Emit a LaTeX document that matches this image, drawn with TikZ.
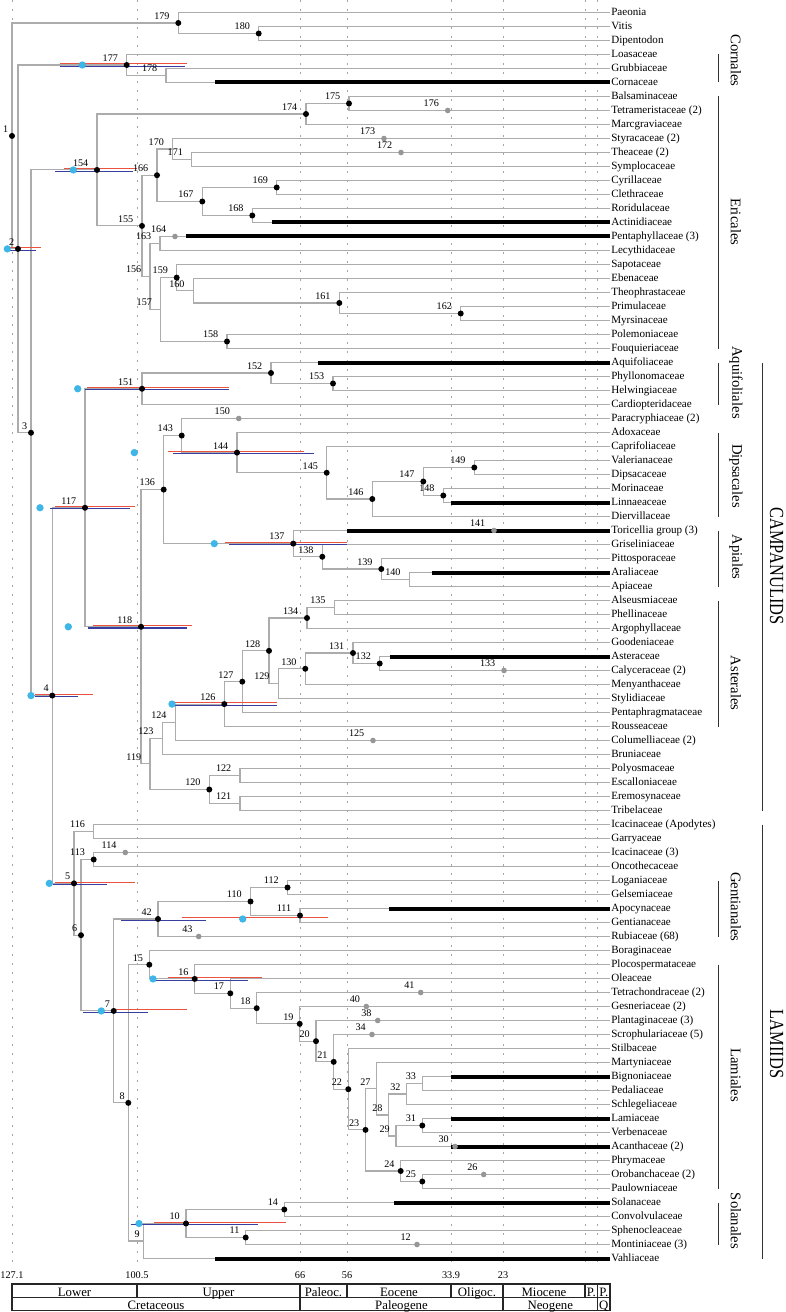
\documentclass[tikz,border=0pt]{standalone}
\usepackage{fontspec}
\setmainfont{Liberation Serif}
\usetikzlibrary{calc}
\definecolor{branchgray}{RGB}{172,172,172}
\definecolor{gridgray}{RGB}{165,165,165}
\definecolor{collgray}{RGB}{150,150,150}
\definecolor{hpdred}{RGB}{236,82,64}
\definecolor{hpdblue}{RGB}{56,62,160}
\definecolor{calibcyan}{RGB}{62,182,232}
\newcommand{\clade}[4]{%
  \path let \p1=(#3), \p2=(#4) in coordinate (#1) at ({#2*0.75pt},{0.5*\y1+0.5*\y2});
  \draw[branch] (#3) -| (#1) |- (#4);}
\newcommand{\hpd}[5]{%
  \draw[hpdr] ($(#2,0 |- #1)+(0,-1.2)$) -- ($(#3,0 |- #1)+(0,-1.2)$);
  \draw[hpdb] ($(#4,0 |- #1)+(0,1.2)$) -- ($(#5,0 |- #1)+(0,1.2)$);}
\begin{document}
\begin{tikzpicture}[x=0.75pt, y=-0.75pt,
    branch/.style={draw=branchgray, line width=0.8pt},
    stem/.style={draw=black, line width=3pt},
    hpdr/.style={draw=hpdred, line width=0.8pt},
    hpdb/.style={draw=hpdblue, line width=0.8pt},
    grid/.style={draw=gridgray, line width=0.6pt, dash pattern=on 1.5pt off 5.25pt},
    taxon/.style={anchor=base west, inner sep=0.75pt, yshift=-2.6pt, font=\fontsize{8.3}{9}\selectfont},
    num/.style={anchor=south east, inner sep=0pt, yshift=2.5pt, font=\fontsize{7.6}{8}\selectfont},
    axlbl/.style={font=\fontsize{7.7}{8}\selectfont, inner sep=0pt},
    tab/.style={draw=black!85, line width=0.8pt},
    tablbl/.style={anchor=base, inner sep=0pt, font=\fontsize{9.6}{10}\selectfont},
    ordbar/.style={draw=black!80, line width=0.8pt},
    ordlbl/.style={rotate=-90, inner sep=0pt, font=\fontsize{11}{12}\selectfont},
    grplbl/.style={rotate=-90, xscale=0.82, inner sep=0pt, font=\fontsize{15}{16}\selectfont},
]
\useasboundingbox (0,0) rectangle (785,1312);
\fill[white] (0,0) rectangle (785,1312);

\foreach \x in {12,137,300,347,451,503,585,597.7}
  \draw[grid] (\x,0) -- (\x,1264);

\foreach \tx [count=\i] in {Paeonia, Vitis, Dipentodon, Loasaceae, Grubbiaceae, Cornaceae,
    Balsaminaceae, Tetrameristaceae (2), Marcgraviaceae, Styracaceae (2), Theaceae (2),
    Symplocaceae, Cyrillaceae, Clethraceae, Roridulaceae, Actinidiaceae, Pentaphyllaceae (3),
    Lecythidaceae, Sapotaceae, Ebenaceae, Theophrastaceae, Primulaceae, Myrsinaceae,
    Polemoniaceae, Fouquieriaceae, Aquifoliaceae, Phyllonomaceae, Helwingiaceae,
    Cardiopteridaceae, Paracryphiaceae (2), Adoxaceae, Caprifoliaceae, Valerianaceae,
    Dipsacaceae, Morinaceae, Linnaeaceae, Diervillaceae, Toricellia group (3), Griseliniaceae,
    Pittosporaceae, Araliaceae, Apiaceae, Alseusmiaceae, Phellinaceae, Argophyllaceae,
    Goodeniaceae, Asteraceae, Calyceraceae (2), Menyanthaceae, Stylidiaceae,
    Pentaphragmataceae, Rousseaceae, Columelliaceae (2), Bruniaceae, Polyosmaceae,
    Escalloniaceae, Eremosynaceae, Tribelaceae, Icacinaceae (Apodytes), Garryaceae,
    Icacinaceae (3), Oncothecaceae, Loganiaceae, Gelsemiaceae, Apocynaceae, Gentianaceae,
    Rubiaceae (68), Boraginaceae, Plocospermataceae, Oleaceae, Tetrachondraceae (2),
    Gesneriaceae (2), Plantaginaceae (3), Scrophulariaceae (5), Stilbaceae, Martyniaceae,
    Bignoniaceae, Pedaliaceae, Schlegeliaceae, Lamiaceae, Verbenaceae, Acanthaceae (2),
    Phrymaceae, Orobanchaceae (2), Paulowniaceae, Solanaceae, Convolvulaceae,
    Sphenocleaceae, Montiniaceae (3), Vahliaceae}{
  \coordinate (t\i) at (610,{12.5+14*(\i-1)});
  \node[taxon] (tl\i) at (t\i) {\tx};
}

\clade{n180}{258.7}{t2}{t3}
\clade{n179}{178.3}{t1}{n180}
\clade{n178}{166}{t5}{t6}
\clade{n177}{126.7}{t4}{n178}
\clade{n175}{349}{t7}{t8}
\clade{n174}{306}{n175}{t9}
\clade{n171}{191.7}{t11}{t12}
\clade{n170}{172.7}{t10}{n171}
\clade{n169}{276.7}{t13}{t14}
\clade{n168}{252.3}{t15}{t16}
\clade{n167}{202.3}{n169}{n168}
\clade{n166}{157}{n170}{n167}
\clade{n163}{160}{t17}{t18}
\clade{n162}{460.7}{t22}{t23}
\clade{n161}{339.3}{t21}{n162}
\clade{n160}{193.3}{t20}{n161}
\clade{n159}{176.7}{t19}{n160}
\clade{n158}{227}{t24}{t25}
\clade{n157}{160.7}{n159}{n158}
\clade{n156}{150}{n163}{n157}
\clade{n155}{142}{n166}{n156}
\clade{n154}{97}{n174}{n155}
\clade{n153}{333}{t27}{t28}
\clade{n152}{271}{t26}{n153}
\clade{n151}{142}{n152}{t29}
\clade{n149}{474.3}{t33}{t34}
\clade{n148}{443.3}{t35}{t36}
\clade{n147}{423.3}{n149}{n148}
\clade{n146}{372.3}{n147}{t37}
\clade{n145}{326.7}{t32}{n146}
\clade{n144}{237}{t31}{n145}
\clade{n143}{181.7}{t30}{n144}
\clade{n140}{409.3}{t41}{t42}
\clade{n139}{381.3}{t40}{n140}
\clade{n138}{322.3}{t39}{n139}
\clade{n137}{293.3}{t38}{n138}
\clade{n136}{163.7}{n143}{n137}
\clade{n135}{334.3}{t43}{t44}
\clade{n134}{307}{n135}{t45}
\clade{n132}{379.7}{t47}{t48}
\clade{n131}{353}{t46}{n132}
\clade{n130}{305.3}{n131}{t49}
\clade{n129}{278.3}{n130}{t50}
\clade{n128}{269}{n134}{n129}
\clade{n127}{242.3}{n128}{t51}
\clade{n126}{224.3}{n127}{t52}
\clade{n124}{175.3}{n126}{t53}
\clade{n123}{162.3}{n124}{t54}
\clade{n122}{240}{t55}{t56}
\clade{n121}{240}{t57}{t58}
\clade{n120}{209.3}{n122}{n121}
\clade{n119}{150}{n123}{n120}
\clade{n118}{141}{n136}{n119}
\clade{n117}{85}{n151}{n118}
\clade{n116}{93.7}{t59}{t60}
\clade{n113}{93.7}{t61}{t62}
\clade{n112}{287.5}{t63}{t64}
\clade{n111}{300}{t65}{t66}
\clade{n110}{250.5}{n112}{n111}
\clade{n42}{158}{n110}{t67}
\clade{n33}{422.3}{t77}{t78}
\clade{n32}{406.7}{n33}{t79}
\clade{n31}{422.3}{t80}{t81}
\clade{n29}{396}{n31}{t82}
\clade{n28}{388.7}{n32}{n29}
\clade{n27}{376.7}{t76}{n28}
\clade{n25}{422.3}{t84}{t85}
\clade{n24}{400.7}{t83}{n25}
\clade{n23}{365.5}{n27}{n24}
\clade{n22}{348.3}{t75}{n23}
\clade{n21}{333.7}{t74}{n22}
\clade{n20}{316}{t73}{n21}
\clade{n19}{299.7}{t72}{n20}
\clade{n18}{256.7}{t71}{n19}
\clade{n17}{230.3}{t70}{n18}
\clade{n16}{194.7}{t69}{n17}
\clade{n15}{149.3}{t68}{n16}
\clade{n14}{284.3}{t86}{t87}
\clade{n11}{245.7}{t88}{t89}
\clade{n10}{186}{n14}{n11}
\clade{n9}{143.3}{n10}{t90}
\clade{n8}{128.3}{n15}{n9}
\clade{n7}{113.7}{n42}{n8}
\clade{n6}{81}{n113}{n7}
\clade{n5}{74}{n116}{n6}
\clade{n4}{52.3}{n117}{n5}
\clade{n3}{31}{n154}{n4}
\clade{n2}{18}{n177}{n3}
\clade{n1}{12}{n179}{n2}

\foreach \x/\t in {215/6,271.7/16,186/17,318.3/26,450.7/36,346.7/38,431.7/41,389.5/47,
    389.3/65,450.7/77,450.7/80,450.7/82,394/86,215/90}
  \draw[stem] (\x,0 |- t\t) -- (t\t);

\foreach \n/\x/\t in {176/447.7/8,173/384/10,172/401/11,164/175/17,150/238.7/30,141/494/38,
    133/504/48,125/373/53,114/125.3/61,43/198.7/67,41/420.7/71,40/366.3/72,38/377.7/73,
    34/372/74,30/455/82,26/483.7/84,12/417/89}
  \coordinate (n\n) at (\x,0 |- t\t);

\hpd{n177}{60}{186.7}{60}{185}
\hpd{n154}{64}{137}{55}{133}
\hpd{n2}{7.3}{40.7}{7.3}{36}
\hpd{n151}{87.3}{229.3}{85}{229.3}
\hpd{n117}{55}{135}{50}{130}
\hpd{n144}{168.3}{304.3}{172.7}{314}
\hpd{n137}{225}{346.7}{229.3}{346.7}
\hpd{n118}{93.3}{191.7}{88.3}{186.7}
\hpd{n4}{35}{92.7}{35}{78.3}
\hpd{n126}{172}{276.7}{172}{276.7}
\hpd{n5}{55}{135}{53.3}{106.7}
\hpd{n42}{181.7}{328.3}{121}{206}
\hpd{n16}{168.3}{262.3}{153}{247.7}
\hpd{n7}{113.3}{186.7}{83.3}{148.3}
\hpd{n10}{154}{285.7}{130.7}{257.7}

\foreach \n/\x in {177/82.3,154/73.3,2/7.3,151/77.7,117/40,144/134.3,137/214.3,118/68.3,
    4/31,126/172,5/49.3,42/242.7,16/153,7/101.3,10/139}
  \fill[calibcyan] (\x,0 |- n\n) circle (2.75pt);

\foreach \n in {1,2,3,4,5,6,7,8,10,11,14,15,16,17,18,19,20,21,22,23,24,25,31,42,110,111,112,
    113,117,118,120,126,127,128,130,131,132,134,136,137,138,139,143,144,145,146,147,148,149,
    151,152,153,154,155,158,159,161,162,166,167,168,169,174,175,177,179,180}
  \fill[black] (n\n) circle (2.25pt);
\foreach \n in {12,26,30,34,38,40,41,43,114,125,133,141,150,164,172,173,176}
  \fill[collgray] (n\n) circle (2.1pt);

\foreach \n in {1,2,3,4,5,6,7,8,9,10,11,12,14,15,16,17,18,19,20,21,22,23,24,25,26,27,28,29,
    30,31,32,33,34,38,40,41,42,43,110,111,112,113,114,116,117,118,119,120,121,122,123,124,
    125,126,127,128,129,130,131,132,133,134,135,136,137,138,139,140,141,143,144,145,146,147,
    148,149,150,151,152,153,154,155,156,157,158,159,160,161,162,163,164,166,167,168,169,170,
    171,172,173,174,175,176,177,178,179,180}{
  \pgfmathsetmacro{\sh}{\n<10 ? -2.6 : (\n<100 ? -4.5 : -6.4)}
  \node[num, xshift=\sh pt] (lb\n) at (n\n) {\n};
}

\draw[ordbar] (718.3,0 |- t4) -- (718.3,0 |- t6);
\node[ordlbl] (oCornales) at (736,60.3) {Cornales};
\draw[ordbar] (718.3,0 |- t7) -- (718.3,0 |- t25);
\node[ordlbl] (oEricales) at (736,221.7) {Ericales};
\draw[ordbar] (718.3,0 |- t26) -- (718.3,0 |- t29);
\node[ordlbl] (oAquifoliales) at (736,382.5) {Aquifoliales};
\draw[ordbar] (718.3,0 |- t31) -- (718.3,0 |- t37);
\node[ordlbl] (oDipsacales) at (736,476) {Dipsacales};
\draw[ordbar] (718.3,0 |- t38) -- (718.3,0 |- t42);
\node[ordlbl] (oApiales) at (736,557) {Apiales};
\draw[ordbar] (718.3,0 |- t43) -- (718.3,0 |- t52);
\node[ordlbl] (oAsterales) at (736,683) {Asterales};
\draw[ordbar] (718.3,0 |- t63) -- (718.3,0 |- t67);
\node[ordlbl] (oGentianales) at (736,906.7) {Gentianales};
\draw[ordbar] (718.3,0 |- t69) -- (718.3,0 |- t85);
\node[ordlbl] (oLamiales) at (736,1075) {Lamiales};
\draw[ordbar] (718.3,0 |- t86) -- (718.3,0 |- t89);
\node[ordlbl] (oSolanales) at (736,1221) {Solanales};
\draw[ordbar] (762.3,0 |- t26) -- (762.3,0 |- t58);
\node[grplbl] (gCampanulids) at (776.7,566) {CAMPANULIDS};
\draw[ordbar] (762.3,0 |- t59) -- (762.3,0 |- t90);
\node[grplbl] (gLamiids) at (776.7,1044) {LAMIIDS};

\foreach \x/\a [count=\k] in {12/127.1,137/100.5,300/66,347/56,451/33.9,503/23}
  \node[axlbl] (ax\k) at (\x,1275) {\a};

\draw[tab] (12,1284) rectangle (610,1310.7);
\draw[tab] (12,1297.7) -- (610,1297.7);
\foreach \x in {137,347,451,585}
  \draw[tab] (\x,1284) -- (\x,1297.7);
\foreach \x in {300,503,597.7}
  \draw[tab] (\x,1284) -- (\x,1310.7);
\foreach \x/\s [count=\k] in {74.5/Lower,218.5/Upper,323.5/Paleoc.,399/Eocene,477/Oligoc.,
    544/Miocene,591.3/P.,603.8/P.}
  \node[tablbl] (ep\k) at (\x,1296) {\s};
\foreach \x/\s [count=\k] in {156/Cretaceous,401.5/Paleogene,550.3/Neogene,603.8/Q}
  \node[tablbl] (pe\k) at (\x,1309.2) {\s};
\end{tikzpicture}
\end{document}
